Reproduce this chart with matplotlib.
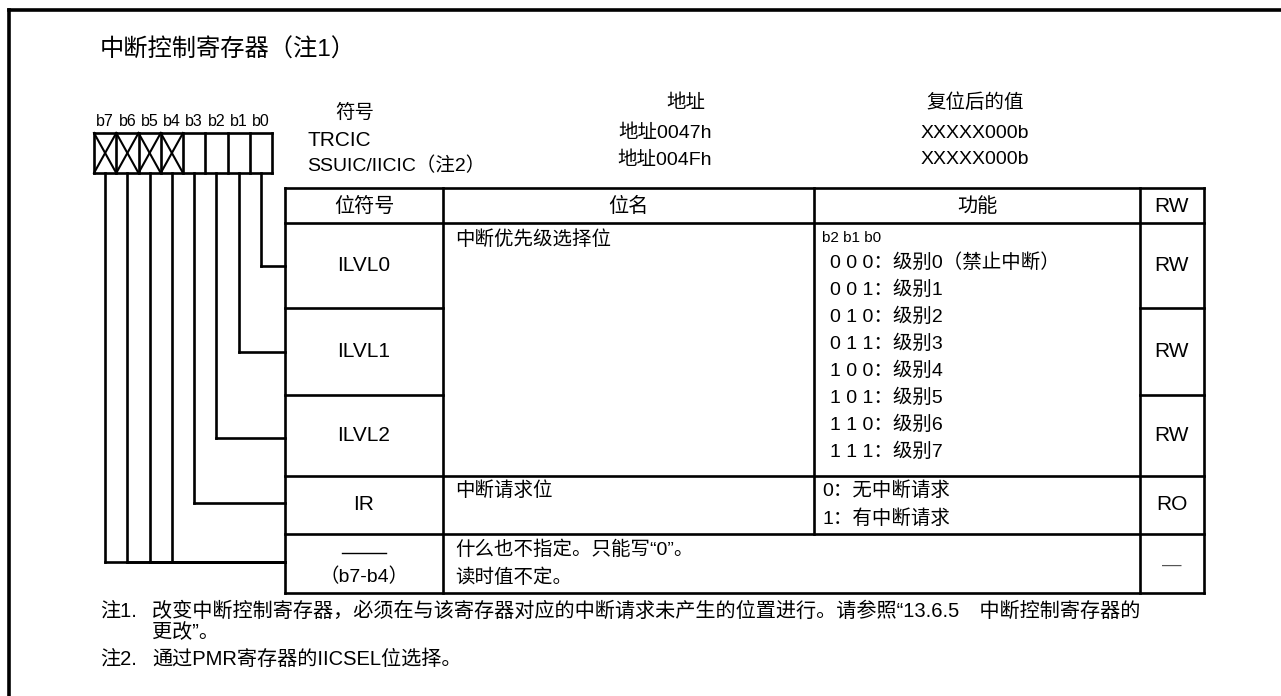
import matplotlib
matplotlib.use("Agg")
from matplotlib import pyplot as plt

# 字体：西文用 Liberation Sans，中文回退到 Noto Sans CJK SC
plt.rcParams["font.family"] = ["Liberation Sans", "Noto Sans CJK SC", "DejaVu Sans"]

# 数据
title = "中断控制寄存器（注1）"
bit_labels = ["b7", "b6", "b5", "b4", "b3", "b2", "b1", "b0"]
reserved_bits = 4  # b7-b4 打叉

sym_header = "符号"
symbols = ["TRCIC", "SSUIC/IICIC（注2）"]
addr_header = "地址"
addresses = ["地址0047h", "地址004Fh"]
reset_header = "复位后的值"
reset_values = ["XXXXX000b", "XXXXX000b"]

col_headers = ["位符号", "位名", "功能", "RW"]
bit_symbols = ["ILVL0", "ILVL1", "ILVL2", "IR", "（b7-b4）"]
rw_values = ["RW", "RW", "RW", "RO", "—"]
ilvl_name = "中断优先级选择位"
ilvl_funcs = ["0 0 0：级别0（禁止中断）", "0 0 1：级别1", "0 1 0：级别2", "0 1 1：级别3",
              "1 0 0：级别4", "1 0 1：级别5", "1 1 0：级别6", "1 1 1：级别7"]
ir_name = "中断请求位"
ir_funcs = ["0：无中断请求", "1：有中断请求"]
rsv_text = ["什么也不指定。只能写“0”。", "读时值不定。"]
notes = [("注1.", "改变中断控制寄存器，必须在与该寄存器对应的中断请求未产生的位置进行。请参照“13.6.5　中断控制寄存器的"),
         ("", "更改”。"),
         ("注2.", "通过PMR寄存器的IICSEL位选择。")]

# 画布（像素坐标）
W, H = 1281, 696
fig = plt.figure(figsize=(W / 100, H / 100), dpi=100)
ax = fig.add_axes([0, 0, 1, 1])
ax.set_xlim(0, W)
ax.set_ylim(H, 0)
ax.axis("off")

LW = 1.9
FS = 14      # 中文/混排
FSL = 15     # 纯西文


def hline(y, x0, x1, lw=LW):
    ax.plot([x0, x1], [y, y], color="black", lw=lw, solid_capstyle="projecting")


def vline(x, y0, y1, lw=LW):
    ax.plot([x, x], [y0, y1], color="black", lw=lw, solid_capstyle="projecting")


# 外框
hline(10, 9, W + 5, lw=2.6)
vline(9, 10, H + 5, lw=2.6)

# 标题
ax.text(100, 50, title, fontsize=17.5, va="center", ha="left")

# 寄存器位框
bx0, bx1, by0, by1 = 94, 272, 133, 173
cw = (bx1 - bx0) / len(bit_labels)
hline(by0, bx0, bx1)
hline(by1, bx0, bx1)
for i in range(len(bit_labels) + 1):
    vline(bx0 + i * cw, by0, by1)
for i, lab in enumerate(bit_labels):
    cx = bx0 + (i + 0.5) * cw
    ax.text(cx, 122, lab, fontsize=11.5, ha="center", va="center")
for i in range(reserved_bits):
    x0, x1 = bx0 + i * cw, bx0 + (i + 1) * cw
    ax.plot([x0, x1], [by0, by1], color="black", lw=1.5)
    ax.plot([x0, x1], [by1, by0], color="black", lw=1.5)

# 表头上方说明
ax.text(355, 113, sym_header, fontsize=FS, ha="center", va="center")
ax.text(307, 141, symbols[0], fontsize=FSL, ha="left", va="center")
ax.text(307, 166, symbols[1], fontsize=FS, ha="left", va="center")
ax.text(686, 103, addr_header, fontsize=FS, ha="center", va="center")
ax.text(975, 103, reset_header, fontsize=FS, ha="center", va="center")
for j, y in enumerate([133, 160]):
    ax.text(665, y, addresses[j], fontsize=FS, ha="center", va="center")
    ax.text(975, y, reset_values[j], fontsize=FS, ha="center", va="center")

# 表格
cols = [285, 443, 814, 1140, 1204]
rows = [188, 223, 308, 395, 476, 534, 593]
hline(rows[0], cols[0], cols[-1])
hline(rows[1], cols[0], cols[-1])
hline(rows[-1], cols[0], cols[-1])
for y in rows[2:4]:
    hline(y, cols[0], cols[1])
    hline(y, cols[3], cols[4])
for y in rows[4:6]:
    hline(y, cols[0], cols[-1])
vline(cols[0], rows[0], rows[-1])
vline(cols[1], rows[0], rows[-1])
vline(cols[2], rows[0], rows[5])
vline(cols[3], rows[0], rows[-1])
vline(cols[4], rows[0], rows[-1])

for i, h in enumerate(col_headers):
    fs = FSL if h == "RW" else 14.5
    ax.text((cols[i] + cols[i + 1]) / 2, 206, h, fontsize=fs, ha="center", va="center")

sym_cx = (cols[0] + cols[1]) / 2
rw_cx = (cols[3] + cols[4]) / 2
for i, (s, rw) in enumerate(zip(bit_symbols, rw_values)):
    yc = (rows[i + 1] + rows[i + 2]) / 2
    if i == 4:
        ax.text(sym_cx, 577, s, fontsize=FS, ha="center", va="center")
        hline(553, sym_cx - 22, sym_cx + 22, lw=1.0)
        ax.text(rw_cx, yc + 2, rw, fontsize=FS, ha="center", va="center", color="#555555")
    else:
        ax.text(sym_cx, yc, s, fontsize=FSL, ha="center", va="center")
        ax.text(rw_cx, yc, rw, fontsize=FSL, ha="center", va="center")

# 位名与功能
ax.text(455, 239, ilvl_name, fontsize=FS, ha="left", va="center")
ax.text(822, 238, "b2 b1 b0", fontsize=11, ha="left", va="center")
for j, t in enumerate(ilvl_funcs):
    ax.text(830, 263 + j * 27, t, fontsize=FS, ha="left", va="center")
ax.text(455, 491, ir_name, fontsize=FS, ha="left", va="center")
for j, t in enumerate(ir_funcs):
    ax.text(822, 491 + j * 28, t, fontsize=FS, ha="left", va="center")
for j, t in enumerate(rsv_text):
    ax.text(455, 550 + j * 28, t, fontsize=FS, ha="left", va="center")

# 位线连接
conn_y = [562, 562, 562, 562, 503, 438, 352, 266]
for i, y in enumerate(conn_y):
    cx = bx0 + (i + 0.5) * cw
    vline(cx, by1, y)
    hline(y, cx, cols[0])

# 注释
for j, (a, b) in enumerate(notes):
    y = [611, 633, 659][j]
    if a:
        ax.text(100, y, a, fontsize=14.5, ha="left", va="center")
    ax.text(152, y, b, fontsize=14.5, ha="left", va="center")

fig.savefig("out.png", dpi=100)
